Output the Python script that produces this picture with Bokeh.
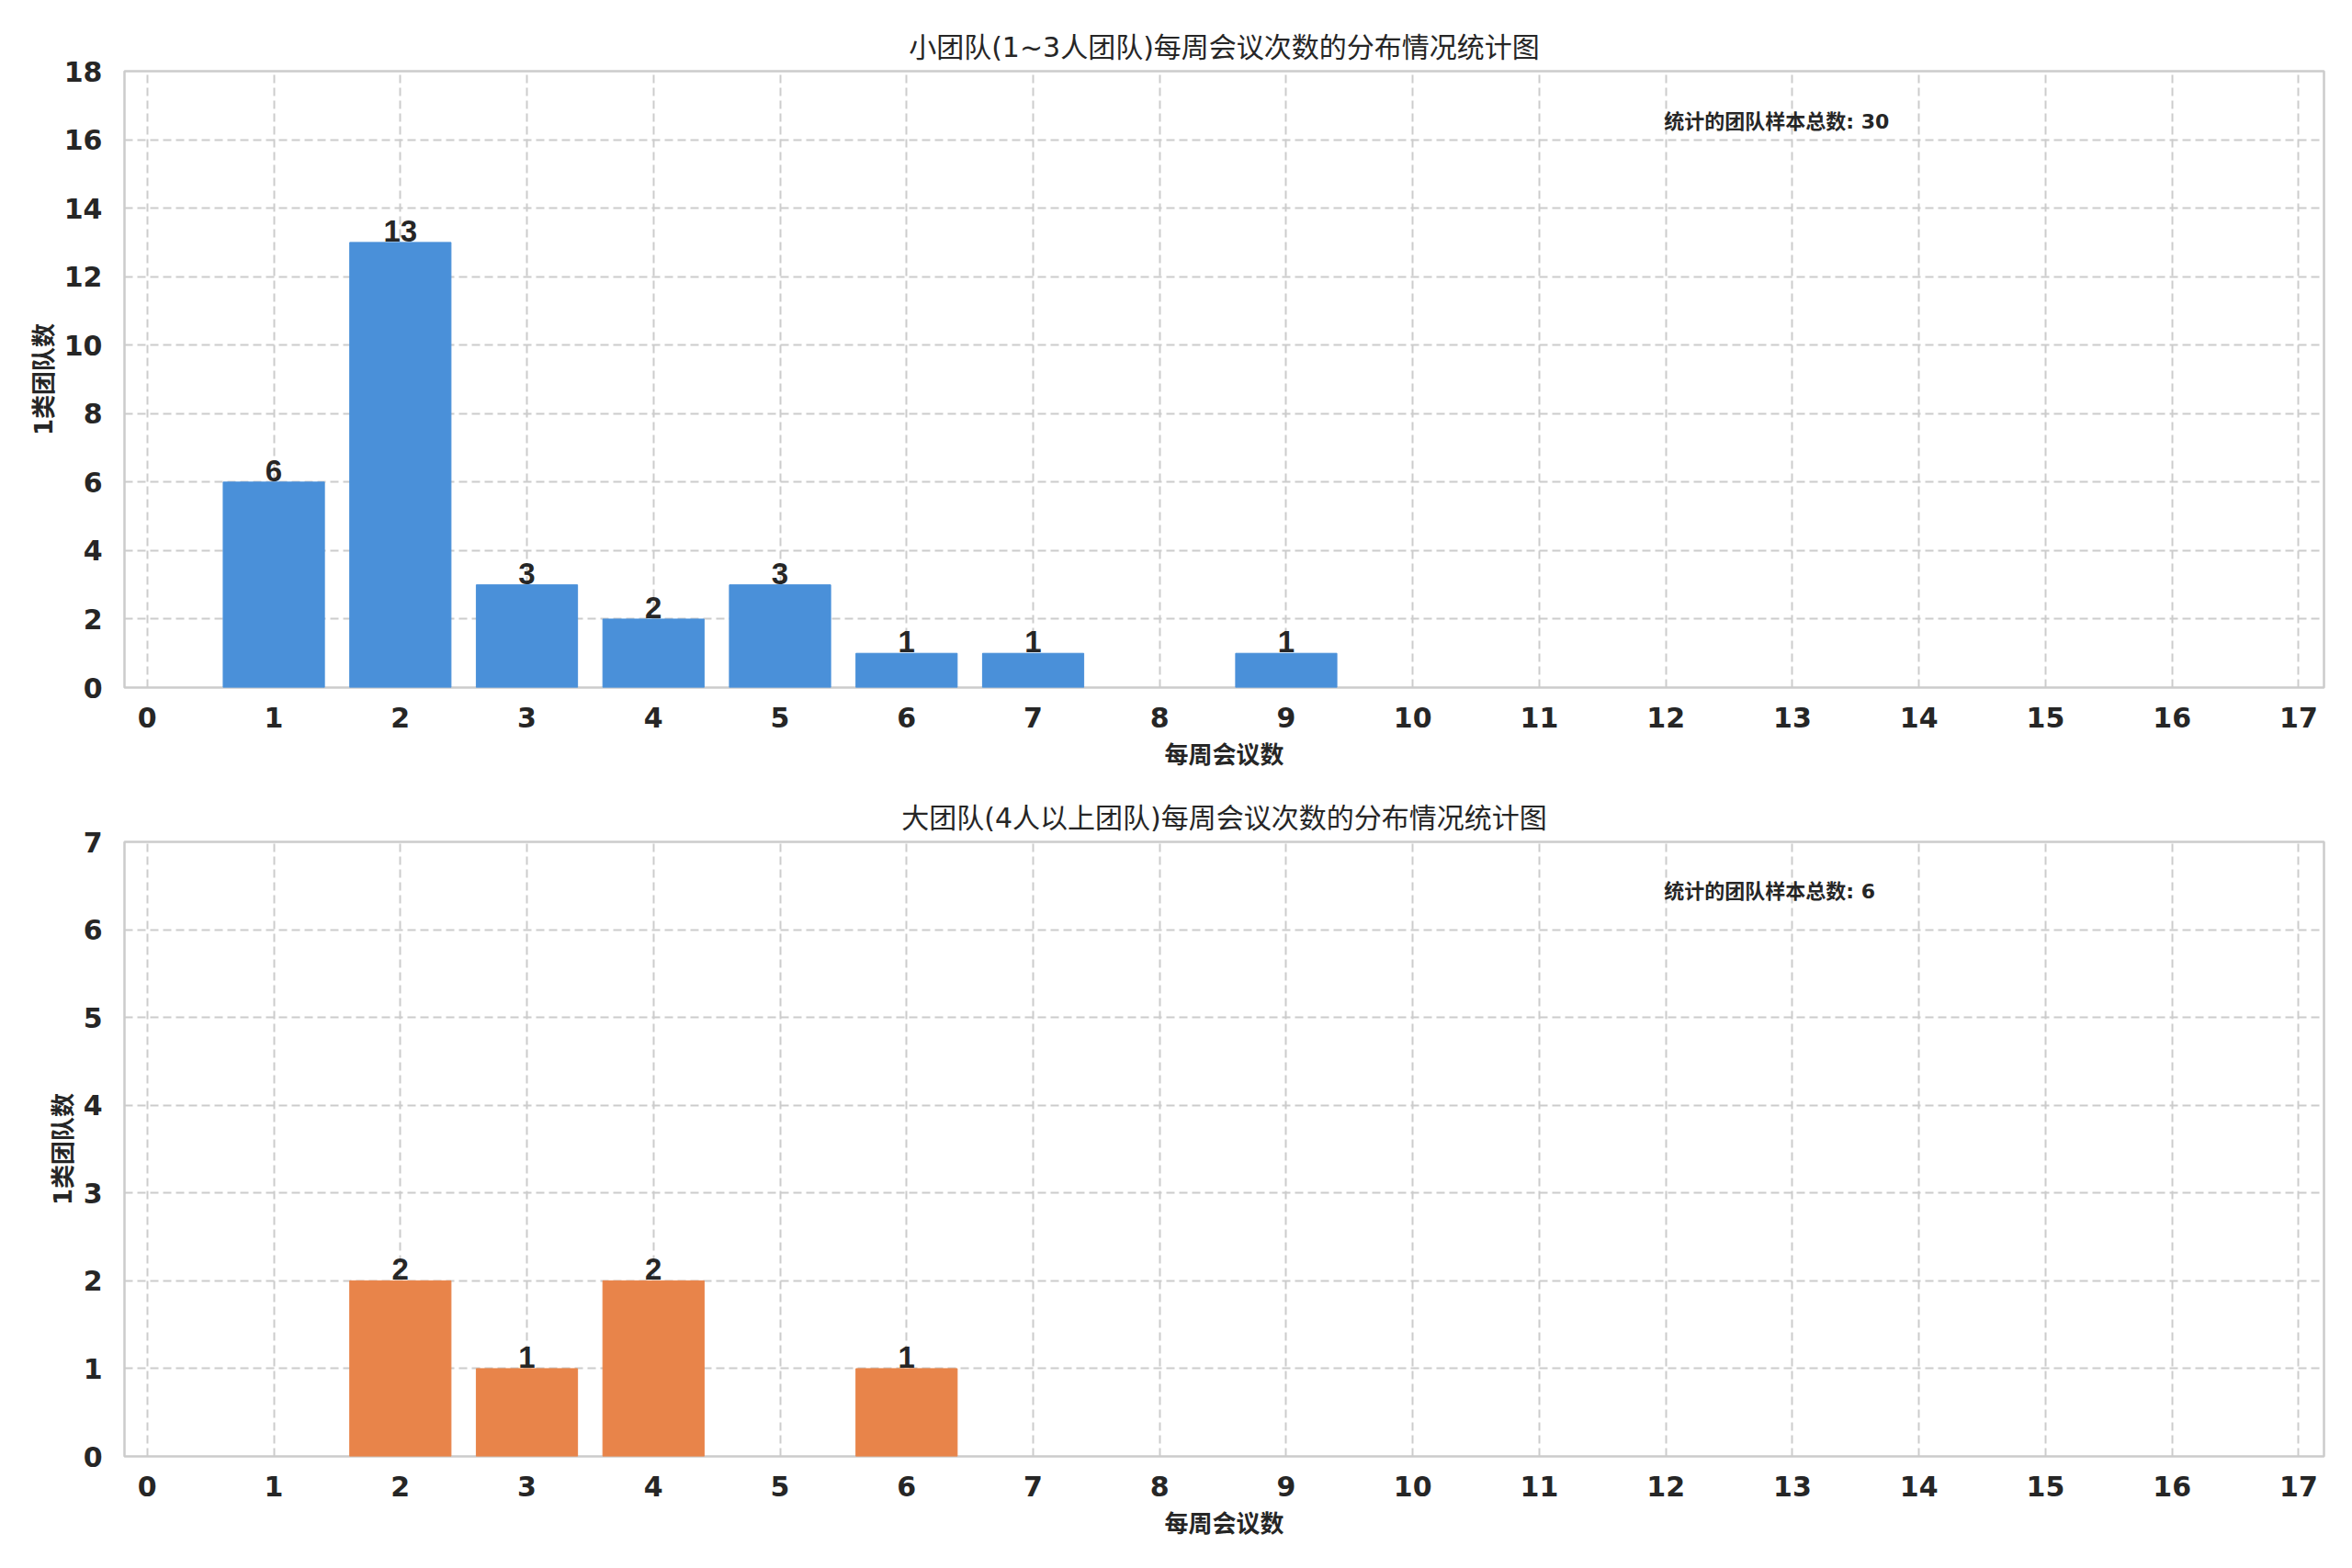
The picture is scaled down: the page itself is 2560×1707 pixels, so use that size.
from bokeh.plotting import figure
from bokeh.layouts import column
from bokeh.models import ColumnDataSource, FixedTicker, Range1d, Label
from bokeh.embed import file_html
from bokeh.resources import INLINE

# ---- data ----
small_x = [1, 2, 3, 4, 5, 6, 7, 9]
small_counts = [6, 13, 3, 2, 3, 1, 1, 1]
large_x = [2, 3, 4, 6]
large_counts = [2, 1, 2, 1]

title_small = "小团队(1~3人团队)每周会议次数的分布情况统计图"
title_large = "大团队(4人以上团队)每周会议次数的分布情况统计图"
x_label = "每周会议数"
y_label = "1类团队数"
total_label = "统计的团队样本总数"
x_ticks = list(range(0, 18))
y_ticks_small = list(range(0, 19, 2))
y_ticks_large = list(range(0, 8))

BLUE = "#4A90D9"
ORANGE = "#E8844A"
TXT = "#262626"
GRID = "#cccccc"
FONT = "DejaVu Sans, Noto Sans CJK SC"

X_MIN, X_MAX = -0.18, 17.2


def make_fig(xs, counts, color, title, y_max, y_ticks, height, top, bottom):
    p = figure(width=2544, height=height, output_backend="svg",
               toolbar_location=None, title=title,
               x_range=Range1d(X_MIN, X_MAX), y_range=Range1d(0, y_max),
               min_border_left=135, min_border_right=15,
               min_border_top=top, min_border_bottom=bottom)
    p.title.align = "center"
    p.title.text_font = FONT
    p.title.text_font_size = "30px"
    p.title.text_font_style = "normal"
    p.title.text_color = TXT
    p.title.standoff = 18

    p.outline_line_color = GRID
    p.outline_line_width = 2.5
    p.background_fill_color = "white"
    p.border_fill_color = "white"

    for ax in (p.xaxis, p.yaxis):
        ax.axis_line_color = None
        ax.major_tick_line_color = None
        ax.minor_tick_line_color = None
        ax.major_label_text_font = "DejaVu Sans"
        ax.major_label_text_font_style = "bold"
        ax.major_label_text_font_size = "30px"
        ax.major_label_text_color = TXT
        ax.axis_label_text_font = FONT
        ax.axis_label_text_font_style = "bold"
        ax.axis_label_text_font_size = "26px"
        ax.axis_label_text_color = TXT
    p.xaxis.ticker = FixedTicker(ticks=x_ticks)
    p.yaxis.ticker = FixedTicker(ticks=y_ticks)
    p.xaxis.major_label_standoff = 15
    p.yaxis.major_label_standoff = 18
    p.xaxis.axis_label = x_label
    p.yaxis.axis_label = y_label
    p.xaxis.axis_label_standoff = 12
    p.yaxis.axis_label_standoff = 4

    for g in (p.xgrid, p.ygrid):
        g.grid_line_color = GRID
        g.grid_line_dash = "9 5"
        g.grid_line_width = 2
    p.xgrid.ticker = FixedTicker(ticks=x_ticks)
    p.ygrid.ticker = FixedTicker(ticks=y_ticks)

    src = ColumnDataSource(dict(x=xs, top=counts, label=[str(c) for c in counts]))
    p.vbar(x="x", top="top", width=0.8, bottom=0, source=src,
           fill_color=color, line_color=color, line_width=1)
    p.text(x="x", y="top", text="label", source=src,
           text_align="center", text_baseline="bottom", y_offset=-1,
           text_font_size="33px", text_font_style="bold", text_color=TXT)

    total = sum(counts)
    p.add_layout(Label(x=X_MIN + 0.7 * (X_MAX - X_MIN), y=0.9 * y_max,
                       text=f"{total_label}: {total}",
                       text_font=FONT, text_font_size="22px",
                       text_font_style="bold", text_color=TXT,
                       text_baseline="bottom", text_align="left"))
    return p


p1 = make_fig(small_x, small_counts, BLUE, title_small, 18, y_ticks_small,
              858, 77, 110)
p2 = make_fig(large_x, large_counts, ORANGE, title_large, 7, y_ticks_large,
              830, 58, 103)

layout = column(p1, p2, spacing=0)
open("out.html", "w").write(file_html(layout, INLINE))
